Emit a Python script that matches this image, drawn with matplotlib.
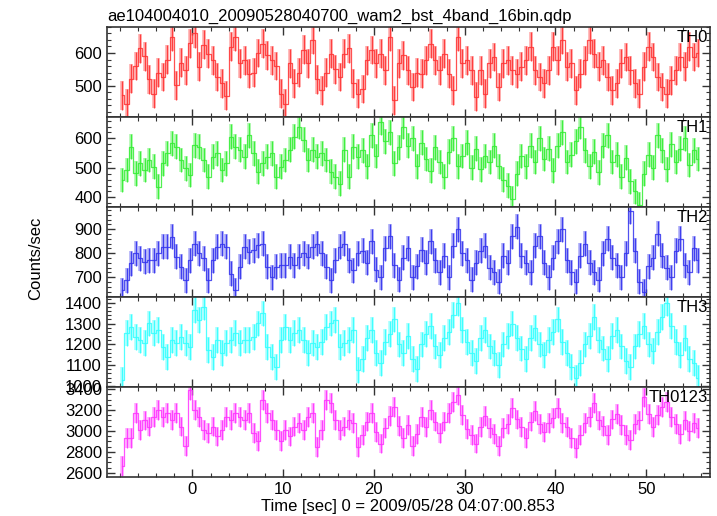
import matplotlib
matplotlib.use('Agg')
import matplotlib.pyplot as plt
from matplotlib.ticker import MultipleLocator
import numpy as np

plt.rcParams['font.family'] = ['Liberation Sans', 'DejaVu Sans']

# light curve, 0.5 s bins starting at t = -8.0 s
t_start = -8.0
bin_size = 0.5

th0 = [471, 445, 522, 560, 615, 590, 520, 476, 540, 527, 580, 650, 501, 570, 547, 630, 660, 558, 625, 598, 578, 527, 507, 470,
       619, 650, 568, 578, 537, 540, 600, 629, 593, 578, 560, 476, 445, 568, 507, 540, 610, 568, 640, 520, 486, 540, 598, 550, 527, 598,
       614, 507, 476, 490, 578, 609, 568, 598, 547, 650, 456, 568, 593, 547, 496, 540, 537, 578, 629, 578, 547, 598, 537, 486, 650, 568,
       578, 547, 466, 547, 476, 568, 588, 496, 568, 578, 547, 537, 558, 578, 619, 547, 527, 507, 547, 619, 578, 640, 558, 568, 486, 537,
       578, 640, 598, 558, 578, 527, 486, 507, 568, 588, 547, 507, 476, 558, 619, 588, 527, 496, 476, 517, 547, 588, 558, 619, 588, 600]

th1 = [459, 493, 572, 481, 515, 493, 527, 504, 436, 515, 549, 583, 572, 527, 498, 476, 577, 572, 527, 470, 538, 549, 493, 515, 606,
       572, 561, 538, 611, 549, 487, 515, 538, 549, 470, 504, 527, 561, 606, 640, 595, 527, 561, 538, 549, 527, 487, 470, 447, 561,
       470, 572, 538,
       560, 505, 610, 540, 655, 590, 620, 515, 570, 640, 575, 600, 505, 585, 530,
       490, 570, 520, 470, 555, 600, 505, 540, 585, 500, 565, 495, 540, 520,
       575, 505, 460, 440, 395, 480, 540, 505, 575, 520, 600, 530, 565, 490,
       575, 620, 520, 545, 590, 640, 560, 505, 555, 485, 575, 610, 520, 545,
       470, 535, 455, 420, 375, 480, 545, 500, 610, 560, 495, 580, 520, 565, 600, 510, 560, 530]

th2 = [646, 687, 757, 800, 778, 764, 771, 771, 800, 826, 826, 868, 785, 743, 687, 771, 840, 800, 778, 687, 771, 826, 840, 826, 715,
       646, 743, 826, 806, 812, 833, 840, 743, 700, 743, 750, 750, 785, 750, 785, 800, 785, 826, 840, 800, 743, 687, 771, 826, 840,
       771, 729, 800,
       810, 760, 850, 730, 700, 820, 870, 750, 690, 780, 820, 700, 745, 815, 760,
       850, 770, 720, 790, 700, 830, 900, 800, 770, 690, 760, 810, 830, 740,
       720, 680, 790, 760, 870, 910, 790, 760, 720, 830, 870, 760, 700, 780,
       850, 900, 770, 720, 680, 790, 840, 760, 720, 690, 800, 860, 780, 750,
       700, 800, 975, 810, 680, 640, 745, 780, 880, 790, 740, 700, 810, 860, 750, 720, 820, 770]

th3 = [1029, 1253, 1285, 1237, 1221, 1205, 1301, 1253, 1269, 1189, 1141, 1221, 1205, 1237, 1205, 1189, 1365, 1317, 1381, 1173,
       1141, 1221, 1157, 1205, 1221, 1253, 1205, 1221, 1221, 1237, 1301, 1349, 1189, 1141, 1093, 1221, 1285, 1221, 1253, 1269,
       1221, 1157, 1205, 1189, 1213, 1285, 1301, 1317, 1189, 1205, 1221, 1269, 1077,
       1130, 1230, 1270, 1160, 1110, 1210, 1250, 1320, 1200, 1160, 1240, 1130, 1080, 1200, 1250,
       1290, 1190, 1150, 1230, 1260, 1340, 1400, 1270, 1210, 1160, 1120, 1230, 1270, 1190,
       1160, 1100, 1200, 1240, 1300, 1230, 1180, 1130, 1230, 1280, 1200, 1150, 1220, 1260,
       1320, 1210, 1160, 1090, 1040, 1110, 1200, 1240, 1330, 1220, 1180, 1130, 1240, 1270,
       1190, 1120, 1090, 1190, 1250, 1290, 1200, 1170, 1260, 1330, 1400, 1290, 1210, 1150, 1230, 1130, 1110, 1040]

th0123 = [2661, 2931, 2931, 3169, 3010, 3100, 3042, 3137, 3200, 3137, 3169, 3105, 3169, 3042, 2860, 3390, 3200, 3137, 3010, 2978,
          3042, 2947, 3010, 3137, 3105, 3169, 3137, 3105, 3169, 2978, 2900, 3295, 3169, 3105, 3010, 2900, 3010, 2947, 3042, 3073,
          3010, 3137, 3169, 2850, 3010, 3295, 3264, 3105, 3010, 3042, 3105, 3073, 2850,
          2960, 3090, 3170, 2990, 2880, 3030, 3140, 3230, 3050, 2930, 3060, 2860, 2970, 3130, 3040,
          3200, 3090, 2980, 3090, 3170, 3280, 3340, 3150, 3020, 2960, 2880, 3040, 3140, 3030,
          2970, 2860, 3030, 3070, 3220, 3110, 3040, 2930, 3090, 3190, 3070, 2990, 3080, 3120,
          3220, 3080, 3040, 2930, 2840, 2960, 3080, 3130, 3270, 3100, 3050, 2960, 3110, 3160,
          3060, 2960, 2910, 3070, 3100, 3320, 3160, 3040, 3150, 3230, 3280, 3130, 3070, 2970, 3100, 3000, 3080, 3030]

series = [th0, th1, th2, th3, th0123]
names = ['TH0', 'TH1', 'TH2', 'TH3', 'TH0123']
errs = [44, 42, 52, 62, 95]   # typical 1-sigma error per band
colors = ['#ff3333', '#33ee33', '#3333ee', '#33ffff', '#ff33ff']
ylims = [(405, 680), (368, 673), (618, 993), (996, 1429), (2562, 3422)]
ymajor = [100, 100, 100, 100, 200]
yminor = [20, 20, 20, 20, 50]

fig = plt.figure(figsize=(7.17, 5.16), dpi=100)
axes = fig.subplots(5, 1, sharex=True)
fig.subplots_adjust(left=0.149, right=0.990, top=0.948, bottom=0.076, hspace=0)

for k, ax in enumerate(axes):
    y = np.array(series[k], dtype=float)
    t = t_start + bin_size * (np.arange(len(y)) + 0.5)
    c = colors[k]
    ax.errorbar(t, y, yerr=errs[k], fmt='none', ecolor=c, elinewidth=2.6, alpha=0.4)
    ax.errorbar(t, y, yerr=errs[k], fmt='none', ecolor=c, elinewidth=0.9, alpha=0.9)
    ax.step(t, y, where='mid', color=c, lw=0.9, alpha=0.85)
    ax.set_ylim(*ylims[k])
    ax.set_xlim(-9.42, 57.0)
    ax.yaxis.set_major_locator(MultipleLocator(ymajor[k]))
    ax.yaxis.set_minor_locator(MultipleLocator(yminor[k]))
    ax.xaxis.set_major_locator(MultipleLocator(10))
    ax.xaxis.set_minor_locator(MultipleLocator(2))
    ax.tick_params(which='both', direction='in', top=True, right=True, labelsize=12, color='#333333')
    ax.tick_params(which='major', length=6, width=1)
    ax.tick_params(which='minor', length=3, width=0.8)
    for sp in ax.spines.values():
        sp.set_linewidth(1.2)
        sp.set_color('#333333')
    ax.text(0.997, 0.96, names[k], transform=ax.transAxes, ha='right', va='top', fontsize=12)

axes[0].set_title('ae104004010_20090528040700_wam2_bst_4band_16bin.qdp', loc='left', fontsize=12, pad=4)
axes[-1].set_xlabel('Time [sec] 0 = 2009/05/28 04:07:00.853', fontsize=12, labelpad=2)
fig.text(0.05, 0.5, 'Counts/sec', rotation=90, ha='center', va='center', fontsize=12)

fig.savefig('out.png', dpi=100)
